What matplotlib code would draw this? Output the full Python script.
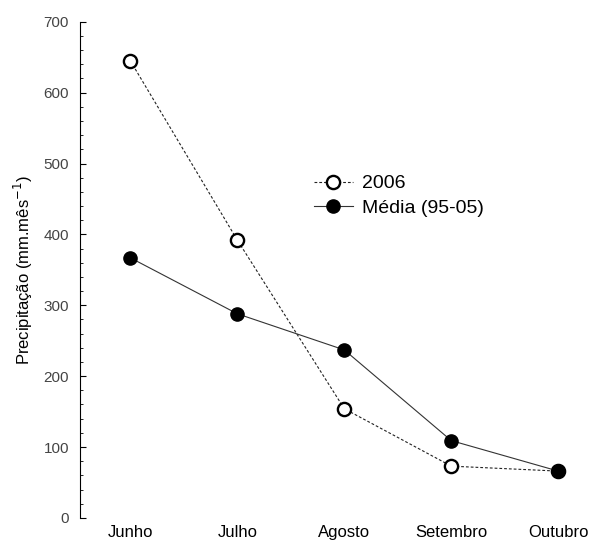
import matplotlib
matplotlib.use('Agg')
import matplotlib.pyplot as plt
from matplotlib.ticker import MultipleLocator

plt.rcParams['font.family'] = ['Liberation Sans', 'DejaVu Sans']

months = ['Junho', 'Julho', 'Agosto', 'Setembro', 'Outubro']
prec_2006 = [645, 392, 154, 73, 66]
prec_media = [367, 288, 237, 109, 66]

fig = plt.figure(figsize=(5.97, 5.44), dpi=100)
ax = fig.add_axes([0.134, 0.048, 0.846, 0.912])

x = list(range(len(months)))
ax.plot(x, prec_2006, color='#222222', lw=0.8, linestyle=(0, (2.5, 1.8)),
        marker='o', markersize=9.5, markerfacecolor='white',
        markeredgecolor='black', markeredgewidth=1.7, label='2006')
ax.plot(x, prec_media, color='#333333', lw=0.8, linestyle='-',
        marker='o', markersize=9.5, markerfacecolor='black',
        markeredgecolor='black', label='Média (95-05)')

ax.set_xlim(-0.47, 4.25)
ax.set_ylim(0, 700)
ax.set_xticks(x)
ax.set_xticklabels(months, fontsize=12, color='black')
ax.tick_params(axis='x', length=0, pad=5)
ax.yaxis.set_major_locator(MultipleLocator(100))
ax.yaxis.set_minor_locator(MultipleLocator(20))
ax.tick_params(axis='y', which='major', direction='in', length=4, width=0.8,
               labelsize=11, labelcolor='#444444', pad=8)
ax.tick_params(axis='y', which='minor', direction='in', length=2, width=0.6)

for side in ['top', 'right', 'bottom']:
    ax.spines[side].set_visible(False)
ax.spines['left'].set_linewidth(0.8)

ax.set_ylabel('Precipitação (mm.mês$^{-1}$)', fontsize=12, labelpad=6)

ax.legend(loc='upper left', bbox_to_anchor=(0.428, 0.727), frameon=False,
          fontsize=14, handlelength=2.0, handletextpad=0.5, labelspacing=0.35)

fig.savefig('out.png', dpi=100)
